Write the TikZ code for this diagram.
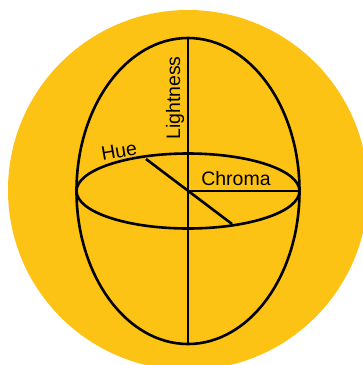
\documentclass[tikz,border=0pt]{standalone}
\usepackage{fontspec}
\setmainfont{Liberation Sans}
\definecolor{sun}{RGB}{252,194,20}
\begin{document}
\begin{tikzpicture}[x=1pt,y=-1pt,
  rim/.style={draw=black,line width=2.6pt},
  lab/.style={font=\fontsize{19.5}{22}\selectfont,inner sep=0pt}]
\useasboundingbox (0,0) rectangle (363,365);
\clip (0,0) rectangle (363,365);
\fill[sun] (188,190) circle[radius=180];
\coordinate (c) at (188,191);
\coordinate (top) at (188,38);
\coordinate (bot) at (188,344);
\coordinate (right) at (299.5,191);
\coordinate (hueA) at (146,159);
\coordinate (hueB) at (232,224);
\draw[rim] (c) ellipse[x radius=111.5, y radius=153];
\draw[rim] (c) ellipse[x radius=111.5, y radius=37.5];
\draw[rim] (top) -- (bot);
\draw[rim] (c) -- (right);
\draw[rim] (hueA) -- (hueB);
\node[lab,rotate=90] (light) at (175,98) {Lightness};
\node[lab] (chroma) at (236,179) {Chroma};
\node[lab,rotate=10] (hue) at (119,151) {Hue};
\end{tikzpicture}
\end{document}
